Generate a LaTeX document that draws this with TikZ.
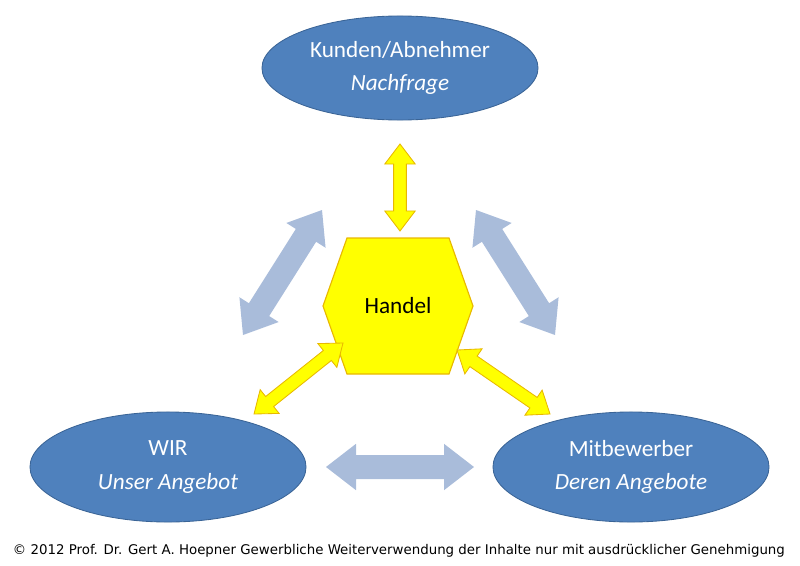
\documentclass[tikz,border=0pt]{standalone}
\usepackage{fontspec}
\setmainfont{Carlito}
\newfontfamily\notefont{DejaVu Sans}
\usetikzlibrary{shapes.geometric,calc,positioning}
\definecolor{ellblue}{HTML}{4F81BD}
\definecolor{ellborder}{HTML}{3A6496}
\definecolor{paleblue}{HTML}{A9BCDA}
\definecolor{hexyellow}{HTML}{FFFF00}
\definecolor{hexborder}{HTML}{E8B800}
\tikzset{
  party/.style={ellipse,fill=ellblue,draw=ellborder,line width=0.6pt,text=white,
    minimum width=6.9cm,minimum height=2.6cm,align=center,font=\fontsize{16.5}{24}\selectfont},
  yarrow/.style={fill=hexyellow,draw=hexborder,line width=0.6pt},
  barrow/.style={fill=paleblue},
}
% double-headed fat arrow: style, from, to, head length, head half, shaft half
\newcommand\twoway[6]{%
  \path[#1] (#2) -- ($($(#2)!#4!(#3)$)!#5!90:(#3)$) -- ($($(#2)!#4!(#3)$)!#6!90:(#3)$)
    -- ($($(#3)!#4!(#2)$)!#6!-90:(#2)$) -- ($($(#3)!#4!(#2)$)!#5!-90:(#2)$) -- (#3)
    -- ($($(#3)!#4!(#2)$)!#5!90:(#2)$) -- ($($(#3)!#4!(#2)$)!#6!90:(#2)$)
    -- ($($(#2)!#4!(#3)$)!#6!-90:(#3)$) -- ($($(#2)!#4!(#3)$)!#5!-90:(#3)$) -- cycle;}
\begin{document}
\begin{tikzpicture}[x=0.025cm,y=-0.025cm]
  \useasboundingbox (0,0) rectangle (800,565);
  % parties
  \node[party] (kunden) at (400,68) {Kunden/Abnehmer\\\textit{Nachfrage}};
  \node[party,minimum height=2.75cm] (wir) at (168,467) {WIR\\\textit{Unser Angebot}};
  \node[party,minimum height=2.75cm] (mitb) at (631,467) {Mitbewerber\\\textit{Deren Angebote}};
  % centre
  \draw[fill=hexyellow,draw=hexborder,line width=0.8pt]
    (347,238) -- (449,238) -- (473,306) -- (449,374) -- (347,374) -- (323,306) -- cycle;
  \node[font=\fontsize{16.5}{20}\selectfont] (handel) at (398,306) {Handel};
  % arrow ends
  \coordinate (yk1) at (400,144);
  \coordinate (yk2) at (400,231);
  \coordinate (yw1) at (343,343);
  \coordinate (yw2) at (254,414);
  \coordinate (ym1) at (457,350);
  \coordinate (ym2) at (550,414);
  \coordinate (bl1) at (322,210);
  \coordinate (bl2) at (243,335);
  \coordinate (br1) at (476,210);
  \coordinate (br2) at (555,335);
  \coordinate (bb1) at (326,467);
  \coordinate (bb2) at (474,467);
  % yellow arrows
  \twoway{yarrow}{yk1}{yk2}{0.5cm}{0.38cm}{0.16cm}
  \twoway{yarrow}{yw1}{yw2}{0.5cm}{0.38cm}{0.16cm}
  \twoway{yarrow}{ym1}{ym2}{0.5cm}{0.38cm}{0.16cm}
  % pale arrows
  \twoway{barrow}{bl1}{bl2}{0.75cm}{0.58cm}{0.3cm}
  \twoway{barrow}{br1}{br2}{0.75cm}{0.58cm}{0.3cm}
  \twoway{barrow}{bb1}{bb2}{0.75cm}{0.58cm}{0.3cm}
  % note
  \node[font=\notefont\fontsize{9.5}{11}\selectfont,anchor=west] (note) at (8,551)
    {\textcopyright{} 2012 Prof. Dr. Gert A. Hoepner Gewerbliche Weiterverwendung der Inhalte nur mit ausdrücklicher Genehmigung};
\end{tikzpicture}
\end{document}
